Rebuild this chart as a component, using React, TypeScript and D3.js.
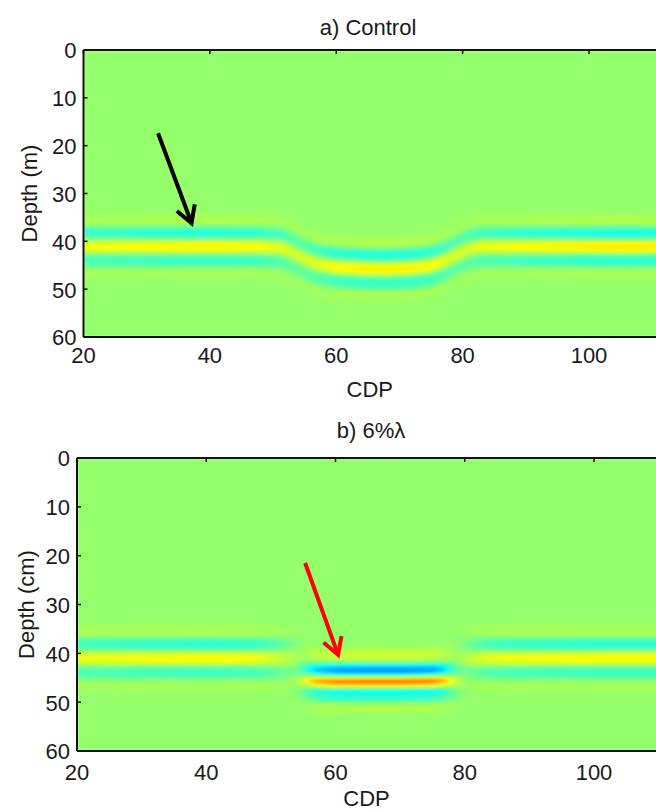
import React, { useMemo } from "react";
import * as d3 from "d3";

const W = 656;
const H = 812;

// ---- axis tick labels ----
const xTickValues = [20, 40, 60, 80, 100];
const yTickValues = [0, 10, 20, 30, 40, 50, 60];

// ---- wavelet shapes (amplitude vs offset from the peak, in m) ----
const waveletOffsets = [-8, -7, -6, -5, -4, -3, -2, -1, 0, 1, 2, 3, 4, 5, 6, 7, 8];
const flatWavelet = [0, 0.06, 0.18, 0.2, -0.45, -0.98, -0.6, 0.5, 1.0, 0.55, -0.5, -0.8, -0.45, 0.08, 0.15, 0.06, 0];
const lensWavelet = [0, 0.1, 0.35, 0.45, -0.1, -1.4, -2.0, -0.2, 1.95, 0.8, -1.0, -0.95, -0.45, 0.1, 0.2, 0.05, 0];

// ---- panel a) Control: one reflector ----
const topCdp = [20, 30, 40, 47, 51, 53, 55, 57, 60, 64, 68, 72, 75, 77, 79, 81, 83, 90, 100, 106, 112];
const topHorizon = [41.1, 41.1, 41.1, 41.1, 41.3, 42.3, 43.7, 44.8, 45.4, 45.7, 45.8, 45.6, 45.1, 44.2, 42.8, 41.6, 41.1, 41.1, 41.1, 41.1, 41.1];
const topAmp = [0.8, 0.9, 1.0, 0.9, 0.7, 0.55, 0.55, 0.7, 0.9, 1.0, 1.0, 1.0, 0.9, 0.7, 0.55, 0.6, 0.75, 0.9, 1.05, 1.1, 1.0];

// ---- panel b) 6%λ: flat reflector + strong lens ----
const botCdp = [20, 30, 40, 47, 50, 52, 54, 55.5, 57, 60, 65, 70, 75, 76.5, 78, 79.5, 81, 83, 86, 100, 112];
const botFlatHorizon = [41.0, 41.0, 41.0, 41.0, 41.0, 41.0, 41.0, 41.0, 41.0, 41.0, 41.0, 41.0, 41.0, 41.0, 41.0, 41.0, 41.0, 41.0, 41.0, 41.0, 41.0];
const botFlatAmp = [0.75, 0.85, 0.95, 0.85, 0.65, 0.4, 0.15, 0, 0, 0, 0, 0, 0, 0, 0, 0.15, 0.4, 0.65, 0.8, 0.95, 0.95];
const botLensHorizon = [45.6, 45.6, 45.6, 45.6, 45.6, 45.6, 45.5, 45.5, 45.6, 45.7, 45.7, 45.7, 45.6, 45.5, 45.5, 45.5, 45.5, 45.6, 45.6, 45.6, 45.6];
const botLensAmp = [0, 0, 0, 0, 0, 0, 0.1, 0.45, 0.8, 1.0, 1.05, 1.05, 1.0, 0.8, 0.4, 0.1, 0, 0, 0, 0, 0];

// ---- arrows (data coordinates) ----
const topArrowCdp = [31.8, 37.1];
const topArrowDepth = [17.4, 36.2];
const botArrowCdp = [55.3, 60.4];
const botArrowDepth = [21.5, 40.3];

// ---- jet colormap ----
const jetPositions = [0, 0.125, 0.375, 0.625, 0.875, 1];
const jetColors = ["#00007f", "#0000ff", "#00ffff", "#ffff00", "#ff0000", "#7f0000"];
const zeroPos = 0.52;
const posPerUnit = 0.12;

const CDP_MIN = 20;
const CDP_MAX = 112;
const DEPTH_MAX = 60;

type Ev = { cdp: number[]; horizon: number[]; amp: number[]; wavelet: number[] };

function sampleWavelet(vals: number[], tau: number) {
  const step = waveletOffsets[1] - waveletOffsets[0];
  const f = (tau - waveletOffsets[0]) / step;
  if (f <= 0 || f >= vals.length - 1) return 0;
  const i = Math.floor(f);
  const t = f - i;
  const p0 = vals[Math.max(i - 1, 0)];
  const p1 = vals[i];
  const p2 = vals[i + 1];
  const p3 = vals[Math.min(i + 2, vals.length - 1)];
  return 0.5 * (2 * p1 + (-p0 + p2) * t + (2 * p0 - 5 * p1 + 4 * p2 - p3) * t * t + (-p0 + 3 * p1 - 3 * p2 + p3) * t * t * t);
}

function buildField(events: Ev[]) {
  const color = d3
    .scaleLinear<string>()
    .domain(jetPositions.map((p) => (p - zeroPos) / posPerUnit))
    .range(jetColors)
    .interpolate(d3.interpolateRgb)
    .clamp(true);
  const dc = 0.25;
  const dz = 0.1;
  const nc = Math.round((CDP_MAX - CDP_MIN) / dc);
  const nz = Math.round(DEPTH_MAX / dz);
  const canvas = document.createElement("canvas");
  canvas.width = nc;
  canvas.height = nz;
  const ctx = canvas.getContext("2d")!;
  const img = ctx.createImageData(nc, nz);
  const fns = events.map((e) => ({
    h: d3.scaleLinear().domain(e.cdp).range(e.horizon).clamp(true),
    a: d3.scaleLinear().domain(e.cdp).range(e.amp).clamp(true),
    w: e.wavelet,
  }));
  for (let c = 0; c < nc; c++) {
    const cdp = CDP_MIN + (c + 0.5) * dc;
    const hs = fns.map((f) => f.h(cdp));
    const as = fns.map((f) => f.a(cdp));
    for (let r = 0; r < nz; r++) {
      const z = (r + 0.5) * dz;
      let v = 0;
      for (let k = 0; k < fns.length; k++) {
        if (as[k] !== 0) v += as[k] * sampleWavelet(fns[k].w, z - hs[k]);
      }
      const col = d3.rgb(color(v));
      const idx = (r * nc + c) * 4;
      img.data[idx] = col.r;
      img.data[idx + 1] = col.g;
      img.data[idx + 2] = col.b;
      img.data[idx + 3] = 255;
    }
  }
  ctx.putImageData(img, 0, 0);
  return canvas.toDataURL();
}

function Arrow({ x1, y1, x2, y2, color }: { x1: number; y1: number; x2: number; y2: number; color: string }) {
  const ang = Math.atan2(y2 - y1, x2 - x1);
  const L = 19;
  const spread = (30 * Math.PI) / 180;
  const b1 = [x2 - L * Math.cos(ang - spread), y2 - L * Math.sin(ang - spread)];
  const b2 = [x2 - L * Math.cos(ang + spread), y2 - L * Math.sin(ang + spread)];
  return (
    <g stroke={color} strokeWidth={4} fill="none">
      <line x1={x1} y1={y1} x2={x2 - 2 * Math.cos(ang)} y2={y2 - 2 * Math.sin(ang)} />
      <path d={`M${b1[0]},${b1[1]} L${x2},${y2} L${b2[0]},${b2[1]}`} strokeLinejoin="miter" />
    </g>
  );
}

const FONT = "'Liberation Sans', Arial, sans-serif";
const TXT = "#1a1a1a";

function Panel({
  title,
  titleX,
  titleY,
  yLabel,
  yLabelX,
  x,
  y,
  href,
  xLabelDy,
  cdpY,
  arrow,
}: {
  title: string;
  titleX: number;
  titleY: number;
  yLabel: string;
  yLabelX: number;
  x: d3.ScaleLinear<number, number>;
  y: d3.ScaleLinear<number, number>;
  href: string;
  xLabelDy: number;
  cdpY: number;
  arrow: { cdp: number[]; depth: number[]; color: string };
}) {
  const x0 = x(CDP_MIN);
  const x1 = x(CDP_MAX);
  const y0 = y(0);
  const y1 = y(DEPTH_MAX);
  return (
    <g fontFamily={FONT} fill={TXT}>
      <image href={href} x={x0} y={y0} width={x1 - x0} height={y1 - y0} preserveAspectRatio="none" filter="url(#soft)" />
      <line x1={x0} x2={W + 5} y1={y0} y2={y0} stroke="#111" strokeWidth={2} />
      <line x1={x0} x2={W + 5} y1={y1} y2={y1} stroke="#111" strokeWidth={2} />
      <line x1={x0} x2={x0} y1={y0} y2={y1} stroke="#111" strokeWidth={2} />
      {xTickValues.map((t) => (
        <g key={"xt" + t}>
          <line x1={x(t)} x2={x(t)} y1={y0} y2={y0 + 4} stroke="#111" strokeWidth={1.5} />
          <text x={x(t)} y={y1 + xLabelDy} textAnchor="middle" fontSize={22}>
            {t}
          </text>
        </g>
      ))}
      {yTickValues.map((t) => (
        <g key={"yt" + t}>
          <line x1={x0} x2={x0 + 4} y1={y(t)} y2={y(t)} stroke="#111" strokeWidth={1.5} />
          <text x={x0 - 7} y={y(t)} dy="0.38em" textAnchor="end" fontSize={22}>
            {t}
          </text>
        </g>
      ))}
      <text x={titleX} y={titleY} textAnchor="middle" fontSize={22}>
        {title}
      </text>
      <text x={(x(20) + W) / 2} y={cdpY} textAnchor="middle" fontSize={22}>
        CDP
      </text>
      <text transform={`translate(${yLabelX},${(y0 + y1) / 2}) rotate(-90)`} textAnchor="middle" fontSize={22}>
        {yLabel}
      </text>
      <Arrow
        x1={x(arrow.cdp[0])}
        y1={y(arrow.depth[0])}
        x2={x(arrow.cdp[1])}
        y2={y(arrow.depth[1])}
        color={arrow.color}
      />
    </g>
  );
}

export default function App() {
  const topHref = useMemo(
    () => buildField([{ cdp: topCdp, horizon: topHorizon, amp: topAmp, wavelet: flatWavelet }]),
    []
  );
  const botHref = useMemo(
    () =>
      buildField([
        { cdp: botCdp, horizon: botFlatHorizon, amp: botFlatAmp, wavelet: flatWavelet },
        { cdp: botCdp, horizon: botLensHorizon, amp: botLensAmp, wavelet: lensWavelet },
      ]),
    []
  );

  const xTop = d3.scaleLinear().domain([20, 100]).range([83.5, 589]);
  const yTop = d3.scaleLinear().domain([0, 60]).range([50, 337]);
  const xBot = d3.scaleLinear().domain([20, 100]).range([77, 594]);
  const yBot = d3.scaleLinear().domain([0, 60]).range([458, 751]);

  return (
    <svg width={W} height={H} style={{ position: "absolute", left: 0, top: 0, background: "#fff" }}>
      <defs>
        <filter id="soft" x="0" y="0" width="1" height="1">
          <feGaussianBlur stdDeviation="1.6" edgeMode="duplicate" />
        </filter>
      </defs>
      <Panel
        title="a) Control"
        titleX={368}
        titleY={35}
        yLabel="Depth (m)"
        yLabelX={37}
        x={xTop}
        y={yTop}
        href={topHref}
        xLabelDy={26}
        cdpY={397}
        arrow={{ cdp: topArrowCdp, depth: topArrowDepth, color: "#000" }}
      />
      <Panel
        title="b) 6%λ"
        titleX={371}
        titleY={438}
        yLabel="Depth (cm)"
        yLabelX={34}
        x={xBot}
        y={yBot}
        href={botHref}
        xLabelDy={29}
        cdpY={806}
        arrow={{ cdp: botArrowCdp, depth: botArrowDepth, color: "#ff0000" }}
      />
    </svg>
  );
}
